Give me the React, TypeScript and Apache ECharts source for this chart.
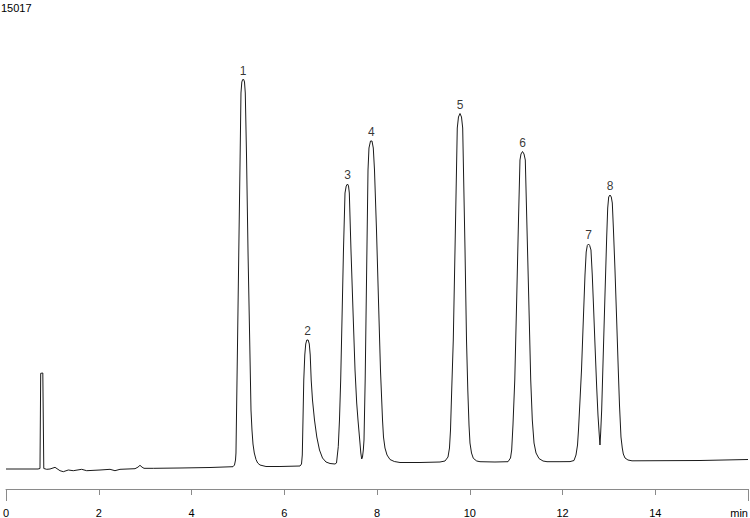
import React, { useEffect, useRef } from "react";
import * as echarts from "echarts";

// Retention time (min) and detector signal of the chromatogram trace
const traceTime: number[] = [
  0, 0.69, 0.733, 0.748, 0.759, 0.794, 0.804, 0.815, 0.878, 0.949,
  1.057, 1.164, 1.236, 1.343, 1.451, 1.632, 1.74, 2.027, 2.243, 2.35,
  2.458, 2.782, 2.846, 2.889, 2.933, 2.976, 3.176, 3.752, 4.399, 4.895,
  4.927, 4.949, 4.959, 4.992, 5.024, 5.046, 5.067, 5.085, 5.104, 5.126,
  5.143, 5.16, 5.186, 5.218, 5.251, 5.283, 5.304, 5.326, 5.354, 5.391,
  5.427, 5.477, 5.606, 5.908, 6.34, 6.372, 6.389, 6.404, 6.421, 6.443,
  6.463, 6.486, 6.516, 6.54, 6.56, 6.581, 6.609, 6.652, 6.702, 6.76,
  6.825, 6.9, 6.987, 7.094, 7.127, 7.165, 7.191, 7.217, 7.245, 7.277,
  7.31, 7.336, 7.364, 7.386, 7.403, 7.439, 7.482, 7.526, 7.562, 7.59,
  7.633, 7.651, 7.67, 7.687, 7.705, 7.72, 7.745, 7.774, 7.806, 7.827,
  7.86, 7.892, 7.92, 7.946, 7.989, 8.032, 8.075, 8.097, 8.119, 8.14,
  8.172, 8.216, 8.28, 8.373, 8.496, 8.927, 9.358, 9.466, 9.531, 9.563,
  9.585, 9.611, 9.645, 9.682, 9.714, 9.731, 9.757, 9.79, 9.822, 9.848,
  9.865, 9.898, 9.93, 9.958, 9.984, 10.005, 10.038, 10.077, 10.15, 10.221,
  10.544, 10.825, 10.879, 10.904, 10.932, 10.971, 11.012, 11.051, 11.083, 11.105,
  11.138, 11.17, 11.198, 11.23, 11.273, 11.315, 11.349, 11.386, 11.429, 11.493,
  11.58, 11.666, 11.946, 12.162, 12.248, 12.291, 12.324, 12.345, 12.378, 12.41,
  12.449, 12.485, 12.511, 12.535, 12.561, 12.586, 12.614, 12.642, 12.668, 12.701,
  12.737, 12.765, 12.793, 12.808, 12.823, 12.845, 12.88, 12.916, 12.953, 12.975,
  12.996, 13.024, 13.052, 13.074, 13.099, 13.132, 13.168, 13.203, 13.229, 13.261,
  13.289, 13.311, 13.348, 13.412, 13.499, 14.965, 16.0,
];

const traceSignal: number[] = [
  640, 640, 656, 3702, 3712, 3712, 3702, 656, 630, 640,
  694, 586, 554, 608, 586, 630, 586, 608, 630, 586,
  630, 650, 700, 758, 700, 662, 662, 672, 688, 714,
  768, 928, 1152, 4608, 8064, 10368, 12672, 13024, 13104, 13104,
  13024, 12672, 10688, 7648, 5088, 2528, 1888, 1440, 1152, 944,
  832, 768, 720, 720, 736, 800, 1088, 2208, 3488, 4288,
  4640, 4768, 4768, 4640, 4288, 3488, 2848, 2208, 1664, 1248,
  992, 864, 816, 800, 832, 1354, 2208, 3488, 5408, 7648,
  9472, 9696, 9760, 9696, 9472, 7648, 5728, 3808, 2752, 2208,
  1472, 1152, 960, 1024, 1248, 1568, 3488, 6688, 10208, 10912,
  11136, 11136, 10912, 10208, 8288, 6048, 3808, 3008, 2208, 1664,
  1312, 1088, 944, 880, 848, 848, 864, 896, 1024, 1312,
  1888, 3168, 4768, 7648, 10208, 11552, 11904, 12016, 11904, 11552,
  10208, 7648, 4768, 3168, 2048, 1472, 1152, 982, 896, 874,
  864, 874, 992, 1248, 2048, 3488, 6048, 8608, 10528, 10720,
  10800, 10720, 10528, 8608, 6048, 3488, 2208, 1472, 1152, 976,
  896, 874, 874, 877, 912, 1088, 1408, 1888, 2848, 3808,
  5408, 6848, 7584, 7792, 7840, 7792, 7648, 6848, 5888, 4608,
  3264, 2368, 1728, 1408, 1792, 2528, 4352, 6208, 8064, 8992,
  9344, 9408, 9344, 9152, 8288, 7008, 5408, 3808, 2688, 1664,
  1312, 1120, 992, 928, 902, 912, 944,
];

// Numbered peaks (apex time, apex signal)
const peakLabels: string[] = ["1", "2", "3", "4", "5", "6", "7", "8"];
const peakTimes: number[] = [5.115, 6.501, 7.364, 7.876, 9.79, 11.138, 12.561, 13.024];
const peakHeights: number[] = [13104, 4768, 9760, 11136, 12016, 10800, 7840, 9408];

// Axis
const xMin = 0;
const xMax = 16;
const xInterval = 2;
const yMax = 15017;
const axisUnit = "min";

const FONT = "'Liberation Sans', Arial, Helvetica, sans-serif";

export default function App() {
  const ref = useRef<HTMLDivElement>(null);

  useEffect(() => {
    if (!ref.current) return;
    const chart = echarts.init(ref.current, undefined, { renderer: "svg" });
    const trace = traceTime.map((t, i) => [t, traceSignal[i]]);
    const peaks = peakTimes.map((t, i) => ({ value: [t, peakHeights[i]], name: peakLabels[i] }));

    chart.setOption({
      animation: false,
      backgroundColor: "#ffffff",
      title: {
        text: String(yMax),
        left: 1,
        top: 2,
        padding: 0,
        textStyle: { fontFamily: FONT, fontSize: 11, fontWeight: "normal", color: "#000" },
      },
      grid: {
        left: 6,
        right: 2,
        top: 19.72,
        bottom: 29,
        containLabel: false,
        outerBoundsMode: "none",
      },
      xAxis: [
        {
          type: "value",
          min: xMin,
          max: xMax,
          interval: xInterval,
          splitLine: { show: false },
          axisLine: { show: true, lineStyle: { color: "#8a8a8a", width: 1 } },
          axisTick: { show: true, length: 6, lineStyle: { color: "#8a8a8a", width: 1 } },
          axisLabel: {
            show: true,
            margin: 18,
            fontFamily: FONT,
            fontSize: 11,
            color: "#000",
            alignMaxLabel: "right",
            formatter: (v: number) => (v === xMax ? axisUnit : String(v)),
          },
        },
        {
          type: "value",
          position: "bottom",
          min: xMin,
          max: xMax,
          interval: xMax - xMin,
          splitLine: { show: false },
          axisLine: { show: false },
          axisTick: { show: true, length: 12, lineStyle: { color: "#8a8a8a", width: 1 } },
          axisLabel: { show: false },
        },
      ],
      yAxis: {
        type: "value",
        min: 0,
        max: yMax,
        show: false,
        splitLine: { show: false },
      },
      series: [
        {
          type: "line",
          data: trace,
          showSymbol: false,
          symbol: "none",
          lineStyle: { color: "#1a1a1a", width: 1 },
          z: 2,
        },
        {
          type: "scatter",
          data: peaks,
          symbolSize: 0,
          silent: true,
          itemStyle: { color: "#000" },
          label: {
            show: true,
            position: "top",
            distance: 3,
            formatter: (p: any) => p.name,
            fontFamily: FONT,
            fontSize: 12,
            color: "#000",
          },
          z: 3,
        },
      ],
    });

    return () => chart.dispose();
  }, []);

  return (
    <div
      ref={ref}
      style={{ position: "fixed", left: 0, top: 0, width: 750, height: 518 }}
    />
  );
}
